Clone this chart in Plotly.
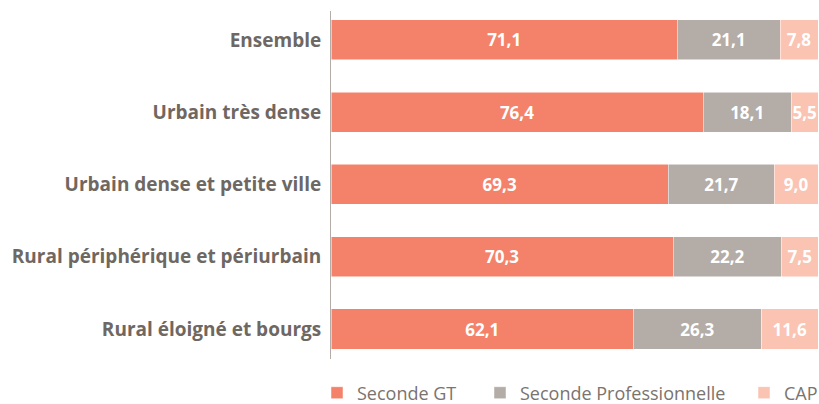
import plotly.graph_objects as go

categories = ["Ensemble", "Urbain très dense", "Urbain dense et petite ville",
              "Rural périphérique et périurbain", "Rural éloigné et bourgs"]
seconde_gt = [71.1, 76.4, 69.3, 70.3, 62.1]
seconde_pro = [21.1, 18.1, 21.7, 22.2, 26.3]
cap = [7.8, 5.5, 9.0, 7.5, 11.6]
series_names = ["Seconde GT", "Seconde Professionnelle", "CAP"]

colors = ["#F4826A", "#B4ACA7", "#FAC3B2"]
W, H = 819, 404
ml, mr, mt, mb = 331, 1, 11, 45

fig = go.Figure()
legend_ids = ["legend", "legend2", "legend3"]
for vals, name, col, lg in zip([seconde_gt, seconde_pro, cap], series_names, colors, legend_ids):
    fig.add_trace(go.Bar(
        y=categories, x=vals, name=name, orientation="h",
        marker=dict(color=col, line=dict(color="white", width=0.5)),
        width=0.554,
        texttemplate="%{x:.1f}", textposition="inside", insidetextanchor="middle",
        textangle=0,
        textfont=dict(family="Open Sans", size=17, color="white", weight="bold"),
        legend=lg, hoverinfo="skip",
    ))

leg_y = 1 - 393 / H
common = dict(orientation="h", yanchor="middle", y=leg_y, xanchor="left",
              xref="container", yref="container",
              font=dict(family="Open Sans", size=18, color="#7A736E"),
              bgcolor="rgba(0,0,0,0)", itemwidth=30, tracegroupgap=0)
fig.update_layout(
    width=W, height=H,
    margin=dict(l=ml, r=mr, t=mt, b=mb, autoexpand=False),
    paper_bgcolor="white", plot_bgcolor="white",
    barmode="stack",
    separators=", ",
    uniformtext=dict(minsize=17, mode="show"),
    showlegend=True,
    legend=dict(x=317 / W, **common),
    legend2=dict(x=480 / W, **common),
    legend3=dict(x=744 / W, **common),
    xaxis=dict(range=[0, 100], visible=False, fixedrange=True),
    yaxis=dict(categoryorder="array", categoryarray=categories,
               range=[4.415, -0.40], showline=True, linecolor="#B4ACA7", linewidth=1,
               showgrid=False, zeroline=False, ticks="", ticklabelstandoff=5,
               tickfont=dict(family="Open Sans", size=19, color="#6E6762", weight="bold")),
)
fig.write_html("out.html", config={"displayModeBar": False},
               post_script="document.body.style.margin='0';document.body.style.overflow='hidden';")
